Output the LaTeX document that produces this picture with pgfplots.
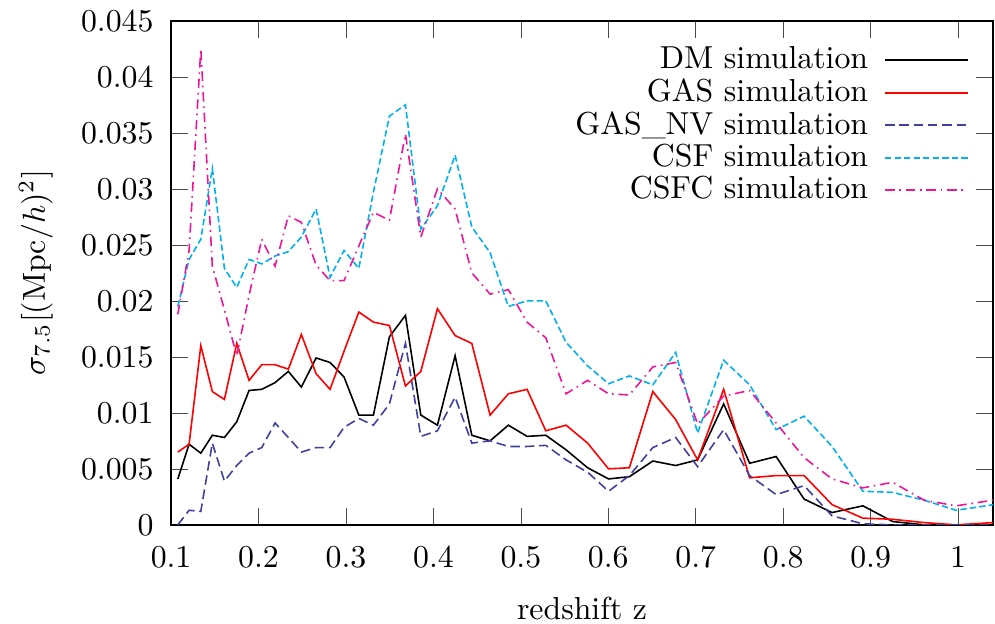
\documentclass[border=0pt]{standalone}
\usepackage{pgfplots}
\pgfplotsset{compat=1.18}
\usepackage{pgfplotstable}

\definecolor{dmblack}{RGB}{0,0,0}
\definecolor{gasred}{RGB}{255,0,0}
\definecolor{nvblue}{RGB}{64,64,160}
\definecolor{csfcyan}{RGB}{0,176,240}
\definecolor{csfcpink}{RGB}{240,20,150}

% sigma_7.5 per snapshot: DM, GAS, GAS_NV, CSF, CSFC
\pgfplotstableread{
z      dm      gas     nv      csf     csfc
0.1077 0.0041  0.0065  0.0000  0.0195  0.0188
0.1206 0.0072  0.0072  0.0013  0.0237  0.0245
0.1340 0.0064  0.0160  0.0012  0.0255  0.0425
0.1472 0.0080  0.0119  0.0073  0.0318  0.0231
0.1610 0.0078  0.0112  0.0039  0.0229  0.0192
0.1751 0.0092  0.0162  0.0053  0.0212  0.0151
0.1892 0.0120  0.0129  0.0064  0.0237  0.0205
0.2037 0.0121  0.0143  0.0069  0.0233  0.0255
0.2189 0.0127  0.0143  0.0091  0.0240  0.0231
0.2341 0.0137  0.0139  0.0078  0.0244  0.0276
0.2490 0.0123  0.0170  0.0065  0.0257  0.0270
0.2658 0.0149  0.0135  0.0069  0.0282  0.0232
0.2818 0.0145  0.0121  0.0069  0.0221  0.0218
0.2978 0.0132  0.0155  0.0087  0.0245  0.0218
0.3147 0.0098  0.0190  0.0095  0.0229  0.0249
0.3314 0.0098  0.0181  0.0089  0.0297  0.0279
0.3497 0.0168  0.0178  0.0108  0.0365  0.0272
0.3680 0.0187  0.0124  0.0162  0.0375  0.0349
0.3856 0.0098  0.0137  0.0079  0.0264  0.0257
0.4046 0.0089  0.0193  0.0084  0.0285  0.0300
0.4248 0.0151  0.0169  0.0114  0.0330  0.0282
0.4439 0.0080  0.0162  0.0073  0.0266  0.0225
0.4648 0.0075  0.0098  0.0075  0.0243  0.0206
0.4857 0.0089  0.0117  0.0070  0.0195  0.0210
0.5071 0.0079  0.0121  0.0070  0.0200  0.0181
0.5285 0.0080  0.0084  0.0071  0.0200  0.0167
0.5517 0.0067  0.0089  0.0058  0.0163  0.0117
0.5763 0.0051  0.0073  0.0047  0.0142  0.0129
0.6003 0.0041  0.0050  0.0030  0.0126  0.0117
0.6241 0.0043  0.0051  0.0044  0.0133  0.0116
0.6509 0.0057  0.0119  0.0069  0.0125  0.0141
0.6770 0.0053  0.0094  0.0078  0.0154  0.0145
0.7021 0.0058  0.0058  0.0052  0.0082  0.0090
0.7319 0.0108  0.0121  0.0085  0.0147  0.0115
0.7616 0.0055  0.0042  0.0044  0.0125  0.0120
0.7919 0.0061  0.0044  0.0027  0.0085  0.0091
0.8239 0.0023  0.0044  0.0035  0.0097  0.0060
0.8559 0.0011  0.0018  0.0008  0.0070  0.0041
0.8911 0.0017  0.0006  0.0001  0.0030  0.0033
0.9251 0.0003  0.0005  0.0000  0.0029  0.0038
0.9612 0.0000  0.0002  0.0000  0.0022  0.0022
0.9977 0.0000  0.0000  0.0000  0.0013  0.0017
1.0400 0.0000  0.0002  0.0000  0.0018  0.0022
}\sigmadata

\begin{document}
\begin{tikzpicture}
\begin{axis}[
    scale only axis,
    width=258.5pt, height=158.5pt,
    xmin=0.1, xmax=1.04,
    ymin=0, ymax=0.045,
    xtick={0.1,0.2,0.3,0.4,0.5,0.6,0.7,0.8,0.9,1},
    ytick={0,0.005,0.01,0.015,0.02,0.025,0.03,0.035,0.04,0.045},
    scaled y ticks=false,
    scaled x ticks=false,
    yticklabel style={/pgf/number format/fixed, /pgf/number format/precision=3, xshift=-2pt},
    xticklabel style={/pgf/number format/fixed, anchor=center, yshift=-10.3pt},
    tick align=inside,
    major tick length=5.3pt,
    major tick style={black!70},
    axis line style={line width=0.6pt},
    xlabel={redshift z},
    ylabel={$\sigma_{7.5}[(\mathrm{Mpc}/h)^2]$},
    xlabel style={at={(axis description cs:0.5,0)}, anchor=center, yshift=-26.4pt, inner sep=1pt},
    ylabel style={at={(axis description cs:-0.1644,0.5)}, anchor=center},
    legend cell align=right,
    legend style={draw=none, fill=none, at={(1,1)}, anchor=north east,
        xshift=-4.5pt, yshift=-4pt, legend plot pos=right,
        row sep=-2.4pt, column sep=3pt},
    legend image code/.code={\draw[line width=0.6pt, #1] (0pt,0pt) -- (26pt,0pt);},
    every axis plot/.append style={line width=0.5pt},
]
\addplot[color=dmblack] table[x=z, y=dm] {\sigmadata};
\addlegendentry{DM simulation}
\addplot[color=gasred] table[x=z, y=gas] {\sigmadata};
\addlegendentry{GAS simulation}
\addplot[color=nvblue, dash pattern=on 3pt off 1.5pt] table[x=z, y=nv] {\sigmadata};
\addlegendentry{GAS\_NV simulation}
\addplot[color=csfcyan, dash pattern=on 2pt off 1pt] table[x=z, y=csf] {\sigmadata};
\addlegendentry{CSF simulation}
\addplot[color=csfcpink, dash pattern=on 3pt off 1.5pt on 0.5pt off 1.5pt] table[x=z, y=csfc] {\sigmadata};
\addlegendentry{CSFC simulation}
\end{axis}
% page margins as in the reference
\path ([xshift=-53.8pt, yshift=5.7pt]current axis.north west)
      ([xshift=0.6pt, yshift=-31.1pt]current axis.south east);
\end{tikzpicture}
\end{document}
